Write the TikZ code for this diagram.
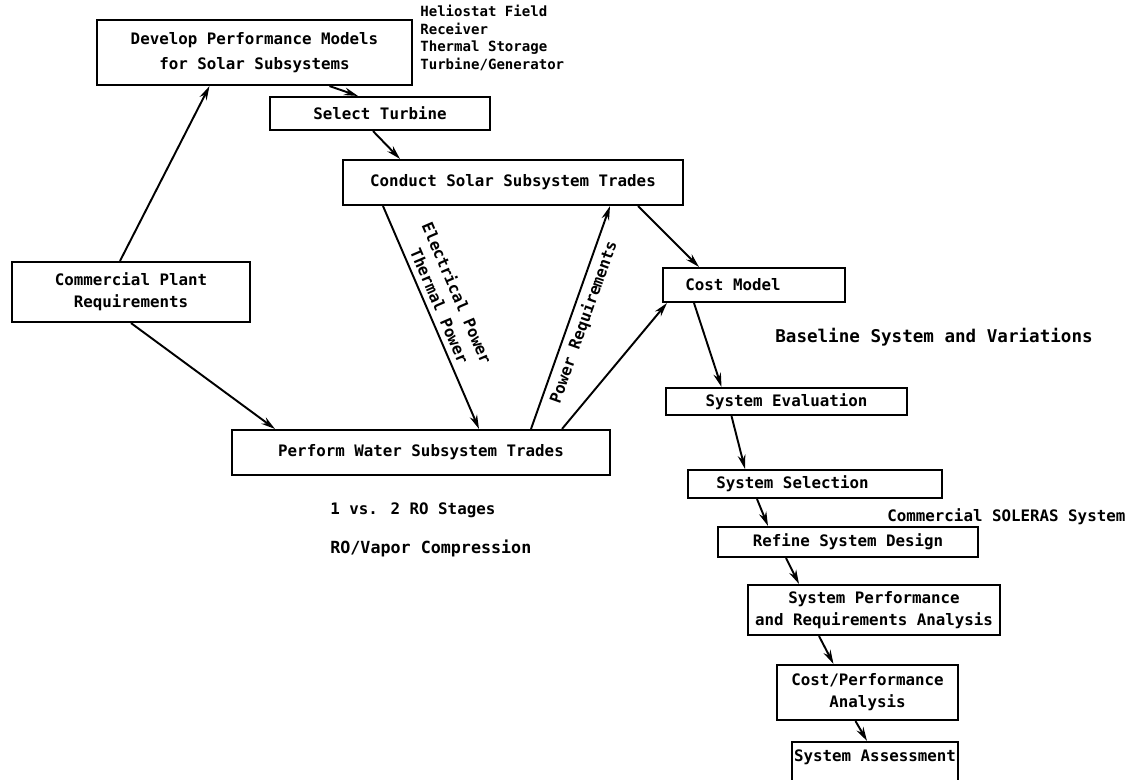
\documentclass[tikz,border=0pt]{standalone}
\usepackage{fontspec}
\setmainfont{DejaVu Sans Mono}
\usetikzlibrary{arrows.meta,calc}
\tikzset{
  blk/.style={draw,line width=1.2pt,inner sep=0pt,align=center,font=\bfseries\fontsize{9}{12.5}\selectfont},
  sz/.style 2 args={minimum width=#1*0.02cm,minimum height=#2*0.02cm},
  flow/.style={line width=1.1pt,-{Stealth[length=8pt,width=4.4pt]}},
  note/.style={anchor=west,inner sep=0pt,font=\bfseries\fontsize{9}{10.5}\selectfont},
  lbl/.style={sloped,inner sep=1pt,font=\bfseries\fontsize{9}{11}\selectfont}
}
\begin{document}
\begin{tikzpicture}[x=0.02cm,y=-0.02cm]
\useasboundingbox (0,0) rectangle (1132,779);
% process boxes
\node[blk,sz={315}{65}] (dev) at (254.5,52.5) {Develop Performance Models\\[2pt]for Solar Subsystems};
\node[blk,sz={220}{33}] (turb) at (380,113.5) {Select Turbine};
\node[blk,sz={340}{45}] (solar) at (513,182.5) {Conduct Solar Subsystem Trades};
\node[blk,sz={238}{60}] (plant) at (131,292) {Commercial Plant\\Requirements};
\node[blk,sz={182}{34}] (cost) at (754,285) {Cost Model\hspace*{0.84cm}};
\node[blk,sz={378}{45}] (water) at (421,452.5) {Perform Water Subsystem Trades};
\node[blk,sz={241}{27}] (eval) at (786.5,401.5) {System Evaluation};
\node[blk,sz={254}{28}] (sel) at (815,484) {System Selection\hspace*{0.9cm}};
\node[blk,sz={260}{30}] (refine) at (848,542) {Refine System Design};
\node[blk,sz={252}{50}] (perf) at (874,610) {System Performance\\and Requirements Analysis};
\node[blk,sz={181}{55}] (cpa) at (867.5,692.5) {Cost/Performance\\Analysis};
\node[blk,sz={166}{50},text height=7pt,text depth=13pt] (assess) at (875,767) {System Assessment};
% side notes
\node[note,align=left,anchor=north west,font=\bfseries\fontsize{8}{10}\selectfont] (helio) at (420,5) {Heliostat Field\\Receiver\\Thermal Storage\\Turbine/Generator};
\node[note,font=\bfseries\fontsize{10}{12}\selectfont] (base) at (775,337) {Baseline System and Variations};
\node[note] (soleras) at (887,517) {Commercial SOLERAS System};
\node[note] (stages) at (330,510) {1 vs. 2 RO Stages};
\node[note,font=\bfseries\fontsize{9.5}{11}\selectfont] (vapor) at (330,548) {RO/Vapor Compression};
% solar side
\draw[flow] ($(plant.north)+(-11,0)$) -- ($(dev.south)+(-45,0)$);
\draw[flow] ($(dev.south)+(75,0)$) -- ($(turb.north)+(-22,0)$);
\draw[flow] ($(turb.south)+(-7,0)$) -- ($(solar.north)+(-113,0)$);
\draw[flow] ($(solar.south)+(-130,0)$) -- node[lbl,above=2pt,pos=0.47]{Thermal Power} node[lbl,above=14pt,pos=0.45]{Electrical Power} ($(water.north)+(58,0)$);
\draw[flow] ($(water.north)+(110,0)$) -- node[lbl,below=2pt,pos=0.5]{Power Requirements} ($(solar.south)+(97,0)$);
\draw[flow] ($(solar.south)+(125,0)$) -- ($(cost.north)+(-55,0)$);
% water side
\draw[flow] (plant.south) -- ($(water.north)+(-146,0)$);
\draw[flow] ($(water.north)+(141,0)$) -- ($(cost.south west)+(5,0)$);
% evaluation chain
\draw[flow] ($(cost.south)+(-60,0)$) -- ($(eval.north)+(-65,0)$);
\draw[flow] ($(eval.south)+(-55,0)$) -- ($(sel.north)+(-70,0)$);
\draw[flow] ($(sel.south)+(-58,0)$) -- ($(refine.north)+(-80,0)$);
\draw[flow] ($(refine.south)+(-62,0)$) -- ($(perf.north)+(-75,0)$);
\draw[flow] ($(perf.south)+(-55,0)$) -- ($(cpa.north)+(-34,0)$);
\draw[flow] ($(cpa.south)+(-12,0)$) -- ($(assess.north)+(-8,0)$);
\end{tikzpicture}
\end{document}
